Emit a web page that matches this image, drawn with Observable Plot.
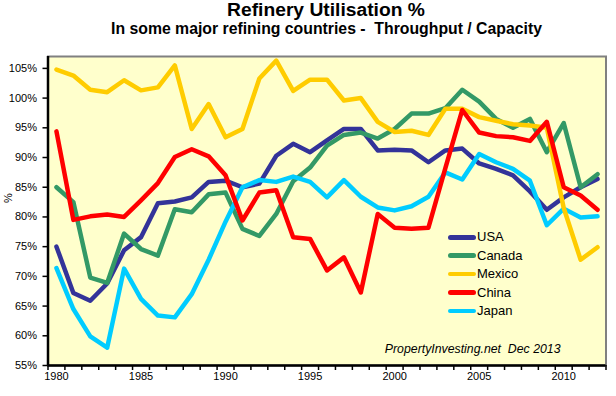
<!DOCTYPE html>
<html>
<head>
<meta charset="utf-8">
<script src="https://cdn.jsdelivr.net/npm/d3@7"></script>
<script src="https://cdn.jsdelivr.net/npm/@observablehq/plot@0.6"></script>
<style>
  body { margin: 0; background: #fff; font-family: "Liberation Sans", Arial, sans-serif; }
  #wrap { position: relative; width: 616px; height: 396px; overflow: hidden; background: #fff; }
  #header { position: relative; height: 44px; }
  .t { position: absolute; white-space: pre; font-weight: bold; color: #000; line-height: 1; }
  #title { font-size: 17.5px; top: 1.5px; left: 326px; transform: translateX(-50%) scaleX(1.1); }
  #subtitle { font-size: 15.8px; top: 21px; left: 326.5px; transform: translateX(-50%); }
  .lg { position: absolute; height: 18px; line-height: 18px; font-size: 13px; color: #000; white-space: nowrap; }
  .sw { position: absolute; left: 448px; width: 28px; height: 4.5px; border-radius: 3px; }
  #chart svg { display: block; }
</style>
</head>
<body>
<div id="wrap">
  <div id="header">
    <div class="t" id="title">Refinery Utilisation %</div>
    <div class="t" id="subtitle">In some major refining countries -  Throughput / Capacity</div>
  </div>
  <div id="chart"></div>
  <div id="legend"></div>
</div>
<script>
const years = d3.range(1980, 2013);
const countries = ["USA", "Canada", "Mexico", "China", "Japan"];
const colors = ["#333399", "#339966", "#FFCC00", "#FF0000", "#00CCFF"];
const drawOrder = ["USA", "Canada", "Japan", "Mexico", "China"];

const usa = [75.0, 67.2, 65.9, 68.8, 74.4, 76.6, 82.3, 82.6, 83.3, 85.9, 86.1, 85.0, 85.6, 90.3, 92.3, 90.9, 92.9, 94.8, 94.8, 91.2, 91.3, 91.2, 89.2, 91.2, 91.5, 89.0, 88.1, 87.0, 84.3, 81.2, 83.3, 85.0, 86.4];
const canada = [85.0, 82.5, 69.8, 68.9, 77.2, 74.6, 73.5, 81.3, 80.8, 83.8, 84.1, 78.0, 76.8, 80.5, 86.0, 88.3, 92.0, 93.8, 94.2, 93.2, 94.8, 97.4, 97.4, 98.3, 101.4, 99.4, 96.5, 95.0, 96.5, 90.9, 95.8, 85.0, 87.2];
const mexico = [104.8, 103.8, 101.4, 101.0, 103.0, 101.3, 101.8, 105.5, 94.8, 99.0, 93.4, 94.8, 103.3, 106.3, 101.2, 103.1, 103.1, 99.6, 100.0, 96.0, 94.3, 94.5, 93.8, 98.2, 98.2, 96.8, 96.2, 95.6, 95.4, 95.0, 81.5, 72.8, 74.9];
const china = [94.4, 79.5, 80.1, 80.4, 80.0, 82.8, 85.7, 90.1, 91.4, 90.2, 87.0, 79.4, 84.1, 84.5, 76.6, 76.3, 71.0, 73.2, 67.3, 80.5, 78.2, 78.0, 78.2, 88.2, 98.0, 94.2, 93.6, 93.4, 92.8, 96.0, 85.0, 83.6, 81.2];
const japan = [71.4, 64.5, 59.9, 58.0, 71.3, 66.2, 63.4, 63.1, 67.0, 72.8, 79.2, 85.0, 86.2, 85.9, 86.8, 85.9, 83.3, 86.2, 83.4, 81.6, 81.1, 81.8, 83.4, 87.5, 86.3, 90.6, 89.2, 88.1, 86.1, 78.6, 81.4, 79.9, 80.1];

const yTicks = [55, 60, 65, 70, 75, 80, 85, 90, 95, 100, 105];
const xLabelYears = [1980, 1985, 1990, 1995, 2000, 2005, 2010];
const caption = "PropertyInvesting.net  Dec 2013";

const seriesValues = { USA: usa, Canada: canada, Mexico: mexico, China: china, Japan: japan };
const rows = [];
for (const name of drawOrder) {
  seriesValues[name].forEach((v, i) => rows.push({ year: years[i], value: v, country: name }));
}
const xDomain = [years[0] - 0.5, years[years.length - 1] + 0.5];
const boundaries = d3.range(xDomain[0], xDomain[1] + 0.01, 1);

const chart = Plot.plot({
  width: 616,
  height: 352,
  marginLeft: 47.5,
  marginRight: 10.5,
  marginTop: 12,
  marginBottom: 31,
  style: { fontFamily: '"Liberation Sans", Arial, sans-serif', fontSize: "11px", color: "#000", background: "transparent", overflow: "visible" },
  x: { domain: xDomain },
  y: { domain: [55, 107] },
  color: { domain: countries, range: colors },
  marks: [
    Plot.frame({ fill: "#FFFFCC", stroke: "#808080", strokeWidth: 2 }),
    Plot.axisY({ ticks: yTicks, tickFormat: d => d + "%", tickSize: 5, tickPadding: 6, strokeWidth: 1.5, fontSize: 11, label: null }),
    Plot.axisX({ ticks: boundaries, tickSize: 5, tickFormat: () => "", strokeWidth: 1.5, label: null }),
    Plot.axisX({ ticks: xLabelYears, tickSize: 0, tickPadding: 7, tickFormat: d => String(d), fontSize: 11, label: null }),
    Plot.line(rows, { x: "year", y: "value", stroke: "country", z: "country", strokeWidth: 4.5, strokeLinejoin: "round", strokeLinecap: "round" }),
    Plot.ruleX([xDomain[0]], { stroke: "#000", strokeWidth: 2.5 }),
    Plot.ruleY([55], { stroke: "#000", strokeWidth: 2.5 }),
    Plot.text([caption], { text: d => d, frameAnchor: "bottom-right", dx: -45.5, dy: -13, textAnchor: "end", lineAnchor: "bottom", fontStyle: "italic", fontSize: 12.3, fill: "#000" }),
    Plot.text(["%"], { text: d => d, frameAnchor: "left", dx: -40, dy: -8, rotate: -90, fontSize: 11, fill: "#000" })
  ]
});
document.getElementById("chart").appendChild(chart);

// Legend (inside plot area, lower right)
const legend = document.getElementById("legend");
const legendTop = 237.3;
const legendStep = 18.4;
countries.forEach((name, i) => {
  const cy = legendTop + i * legendStep;
  const sw = document.createElement("div");
  sw.className = "sw";
  sw.style.top = (cy - 2.25) + "px";
  sw.style.background = colors[i];
  legend.appendChild(sw);
  const lab = document.createElement("div");
  lab.className = "lg";
  lab.style.left = "477px";
  lab.style.top = (cy - 9) + "px";
  lab.textContent = name;
  legend.appendChild(lab);
});
</script>
</body>
</html>
